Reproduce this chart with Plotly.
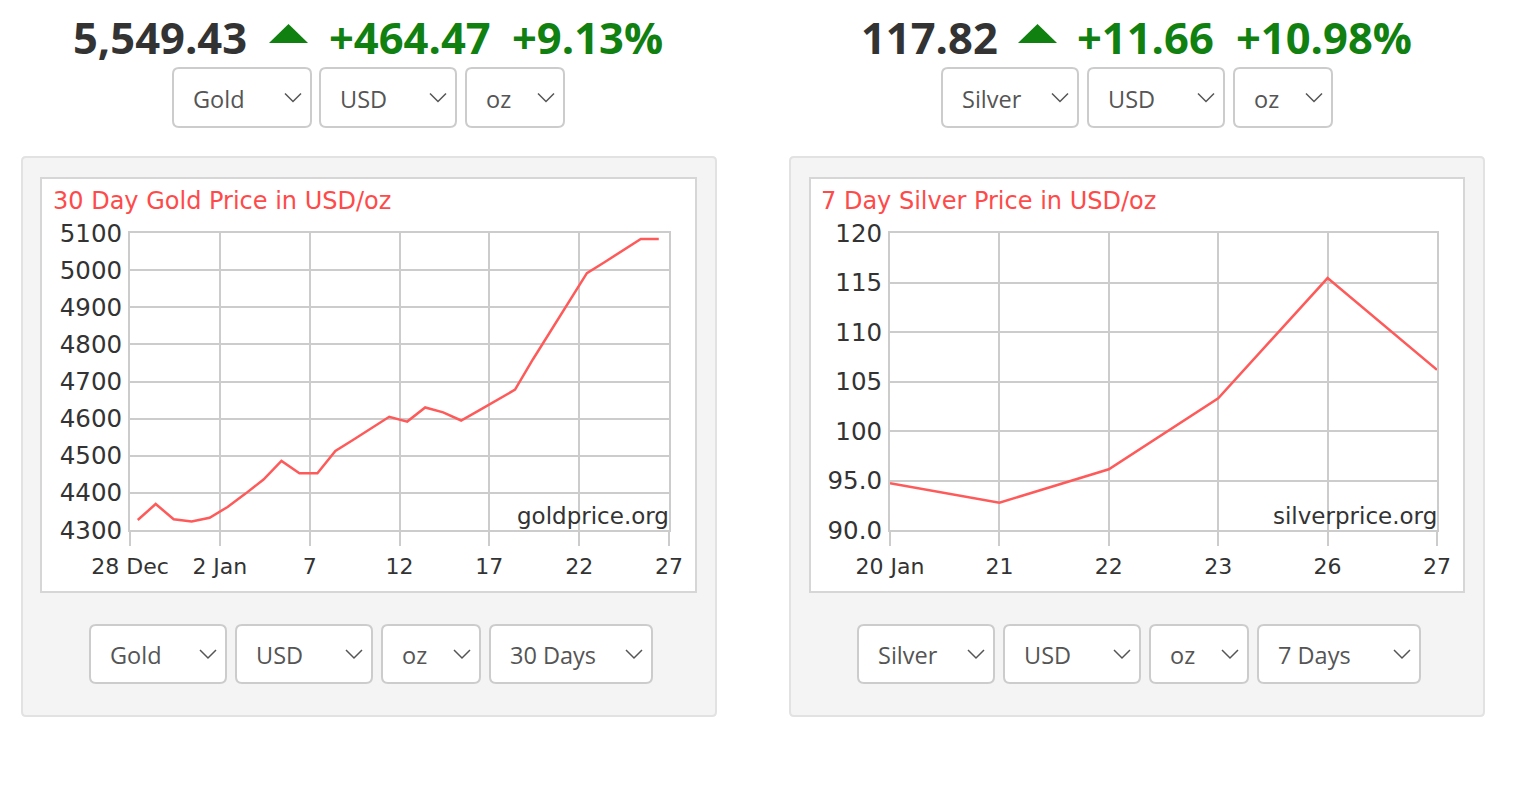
import plotly.graph_objects as go

W, H = 1524, 788

# ---------------- data ----------------
gold_dates = [
    "2025-12-28 10:20", "2025-12-29 10:20", "2025-12-30 10:20", "2025-12-31 10:20",
    "2026-01-01 10:20", "2026-01-02 10:20", "2026-01-03 10:20", "2026-01-04 10:20",
    "2026-01-05 10:20", "2026-01-06 10:20", "2026-01-07 10:20", "2026-01-08 10:20",
    "2026-01-09 10:20", "2026-01-10 10:20", "2026-01-11 10:20", "2026-01-12 10:20",
    "2026-01-13 10:20", "2026-01-14 10:20", "2026-01-15 10:20", "2026-01-16 10:20",
    "2026-01-17 10:20", "2026-01-18 10:20", "2026-01-19 10:20", "2026-01-20 10:20",
    "2026-01-21 10:20", "2026-01-22 10:20", "2026-01-23 10:20", "2026-01-24 10:20",
    "2026-01-25 10:20", "2026-01-26 10:20",
]
gold_prices = [
    4327, 4370, 4329, 4323, 4333, 4362, 4398, 4436, 4486, 4453,
    4453, 4513, 4543, 4573, 4605, 4592, 4630, 4617, 4595, 4622,
    4650, 4678, 4760, 4838, 4915, 4992, 5022, 5053, 5084, 5084,
]
gold_tick_dates = ["2025-12-28", "2026-01-02", "2026-01-07", "2026-01-12",
                   "2026-01-17", "2026-01-22", "2026-01-27"]
gold_tick_labels = ["28 Dec", "2 Jan", "7", "12", "17", "22", "27"]
gold_y_ticks = [4300, 4400, 4500, 4600, 4700, 4800, 4900, 5000, 5100]

silver_days = ["20 Jan", "21", "22", "23", "26", "27"]
silver_prices = [94.72, 92.76, 96.13, 103.3, 115.45, 106.18]
silver_y_ticks = [90, 95, 100, 105, 110, 115, 120]
silver_y_labels = ["90.0", "95.0", "100", "105", "110", "115", "120"]

header_gold = ["5,549.43", "+464.47", "+9.13%"]
header_silver = ["117.82", "+11.66", "+10.98%"]

# ---------------- helpers ----------------
def X(px):
    return px / W


def Y(py):
    return 1 - py / H


def rrect(x0, y0, x1, y1, r):
    return (f"M {X(x0 + r)},{Y(y0)} L {X(x1 - r)},{Y(y0)} "
            f"Q {X(x1)},{Y(y0)} {X(x1)},{Y(y0 + r)} L {X(x1)},{Y(y1 - r)} "
            f"Q {X(x1)},{Y(y1)} {X(x1 - r)},{Y(y1)} L {X(x0 + r)},{Y(y1)} "
            f"Q {X(x0)},{Y(y1)} {X(x0)},{Y(y1 - r)} L {X(x0)},{Y(y0 + r)} "
            f"Q {X(x0)},{Y(y0)} {X(x0 + r)},{Y(y0)} Z")


shapes = []
annotations = []

RED = "#ff4a4a"
GREEN = "#108010"
GRID = "#cccccc"
TICKC = "#333333"

# panels
for (x0, x1) in [(22, 716), (790, 1484)]:
    shapes.append(dict(type="path", xref="paper", yref="paper", layer="below",
                       path=rrect(x0, 157, x1, 716, 4),
                       fillcolor="#f4f4f4", line=dict(color="#e2e2e2", width=2)))
for (x0, x1) in [(41, 696), (810, 1464)]:
    shapes.append(dict(type="rect", xref="paper", yref="paper", layer="below",
                       x0=X(x0), x1=X(x1), y0=Y(592), y1=Y(178),
                       fillcolor="white", line=dict(color="#d6d6d6", width=2)))


def dropdown(x0, x1, y0, y1, label):
    shapes.append(dict(type="path", xref="paper", yref="paper", layer="below",
                       path=rrect(x0, y0, x1, y1, 6),
                       fillcolor="white", line=dict(color="#cccccc", width=2)))
    cy = (y0 + y1) / 2
    cx = x1 - 18
    shapes.append(dict(type="path", xref="paper", yref="paper", layer="above",
                       path=f"M {X(cx - 8)},{Y(cy - 4)} L {X(cx)},{Y(cy + 4)} L {X(cx + 8)},{Y(cy - 4)}",
                       line=dict(color="#555555", width=1.5)))
    annotations.append(dict(xref="paper", yref="paper", x=X(x0 + 18), y=Y(cy + 1),
                            xanchor="left", yanchor="middle", showarrow=False,
                            text=label,
                            font=dict(family="Open Sans", size=23.5, color="#555555")))


top_y = (68, 127)
for (x0, x1, lab) in [(173, 311, "Gold"), (320, 456, "USD"), (466, 564, "oz"),
                      (942, 1078, "Silver"), (1088, 1224, "USD"), (1234, 1332, "oz")]:
    dropdown(x0, x1, top_y[0], top_y[1], lab)
bot_y = (625, 683)
for (x0, x1, lab) in [(90, 226, "Gold"), (236, 372, "USD"), (382, 480, "oz"), (490, 652, "30 Days"),
                      (858, 994, "Silver"), (1004, 1140, "USD"), (1150, 1248, "oz"), (1258, 1420, "7 Days")]:
    dropdown(x0, x1, bot_y[0], bot_y[1], lab)

# header
def header(texts, xs, tri):
    cols = ["#333333", GREEN, GREEN]
    for t, x, c in zip(texts, xs, cols):
        annotations.append(dict(xref="paper", yref="paper", x=X(x), y=Y(37),
                                xanchor="left", yanchor="middle", showarrow=False,
                                text=t,
                                font=dict(family="Open Sans", size=43.5, color=c, weight=700)))
    tx0, tx1 = tri
    shapes.append(dict(type="path", xref="paper", yref="paper",
                       path=f"M {X(tx0)},{Y(43)} L {X((tx0 + tx1) / 2)},{Y(24)} L {X(tx1)},{Y(43)} Z",
                       fillcolor=GREEN, line=dict(width=0)))


header(header_gold, [71, 327, 510], (269, 308))
header(header_silver, [859, 1075, 1234], (1018, 1057))

# chart titles & watermarks
annotations.append(dict(xref="paper", yref="paper", x=X(51), y=Y(201), xanchor="left",
                        yanchor="middle", showarrow=False, text="30 Day Gold Price in USD/oz",
                        font=dict(family="DejaVu Sans", size=24, color=RED)))
annotations.append(dict(xref="paper", yref="paper", x=X(819), y=Y(201), xanchor="left",
                        yanchor="middle", showarrow=False, text="7 Day Silver Price in USD/oz",
                        font=dict(family="DejaVu Sans", size=24, color=RED)))
annotations.append(dict(xref="paper", yref="paper", x=X(671), y=Y(516), xanchor="right",
                        yanchor="middle", showarrow=False, text="goldprice.org",
                        font=dict(family="DejaVu Sans", size=23, color="#333333")))
annotations.append(dict(xref="paper", yref="paper", x=X(1439), y=Y(516), xanchor="right",
                        yanchor="middle", showarrow=False, text="silverprice.org",
                        font=dict(family="DejaVu Sans", size=23, color="#333333")))

# ---------------- figure ----------------
fig = go.Figure()
fig.add_trace(go.Scatter(x=gold_dates, y=gold_prices, mode="lines",
                         line=dict(color="#ff5a5a", width=2.5), xaxis="x", yaxis="y",
                         hoverinfo="skip"))
fig.add_trace(go.Scatter(x=silver_days, y=silver_prices, mode="lines",
                         line=dict(color="#ff5a5a", width=2.5), xaxis="x2", yaxis="y2",
                         hoverinfo="skip"))

common_x = dict(showgrid=True, gridcolor=GRID, gridwidth=2, showline=True, linecolor=GRID,
                linewidth=2, mirror=True, ticks="outside", ticklen=14, tickwidth=2,
                tickcolor=GRID, tickfont=dict(family="DejaVu Sans", size=22, color=TICKC),
                zeroline=False, fixedrange=True, ticklabelstandoff=2, automargin=False)
common_y = dict(showgrid=True, gridcolor=GRID, gridwidth=2, showline=True, linecolor=GRID,
                linewidth=2, mirror=True, ticks="",
                tickfont=dict(family="DejaVu Sans", size=24.5, color=TICKC),
                zeroline=False, fixedrange=True, ticklabelstandoff=1, automargin=False)

fig.update_layout(
    width=W, height=H, margin=dict(l=0, r=0, t=0, b=0, pad=0, autoexpand=False), autosize=False,
    paper_bgcolor="white", plot_bgcolor="rgba(0,0,0,0)", showlegend=False,
    xaxis=dict(domain=[X(130), X(669)], anchor="y", type="date",
               range=["2025-12-28", "2026-01-27"], tickmode="array",
               tickvals=gold_tick_dates, ticktext=gold_tick_labels, **common_x),
    yaxis=dict(domain=[Y(530), Y(233)], anchor="x", range=[4300, 5100], tickmode="array",
               tickvals=gold_y_ticks, **common_y),
    xaxis2=dict(domain=[X(890), X(1437)], anchor="y2", type="category",
                categoryorder="array", categoryarray=silver_days, range=[0, 5], **common_x),
    yaxis2=dict(domain=[Y(530), Y(233)], anchor="x2", range=[90, 120], tickmode="array",
                tickvals=silver_y_ticks, ticktext=silver_y_labels, **common_y),
    shapes=shapes, annotations=annotations,
)

fig.write_html("out.html", config={"displayModeBar": False, "staticPlot": True},
               post_script="document.body.style.margin='0';document.body.style.overflow='hidden';")
